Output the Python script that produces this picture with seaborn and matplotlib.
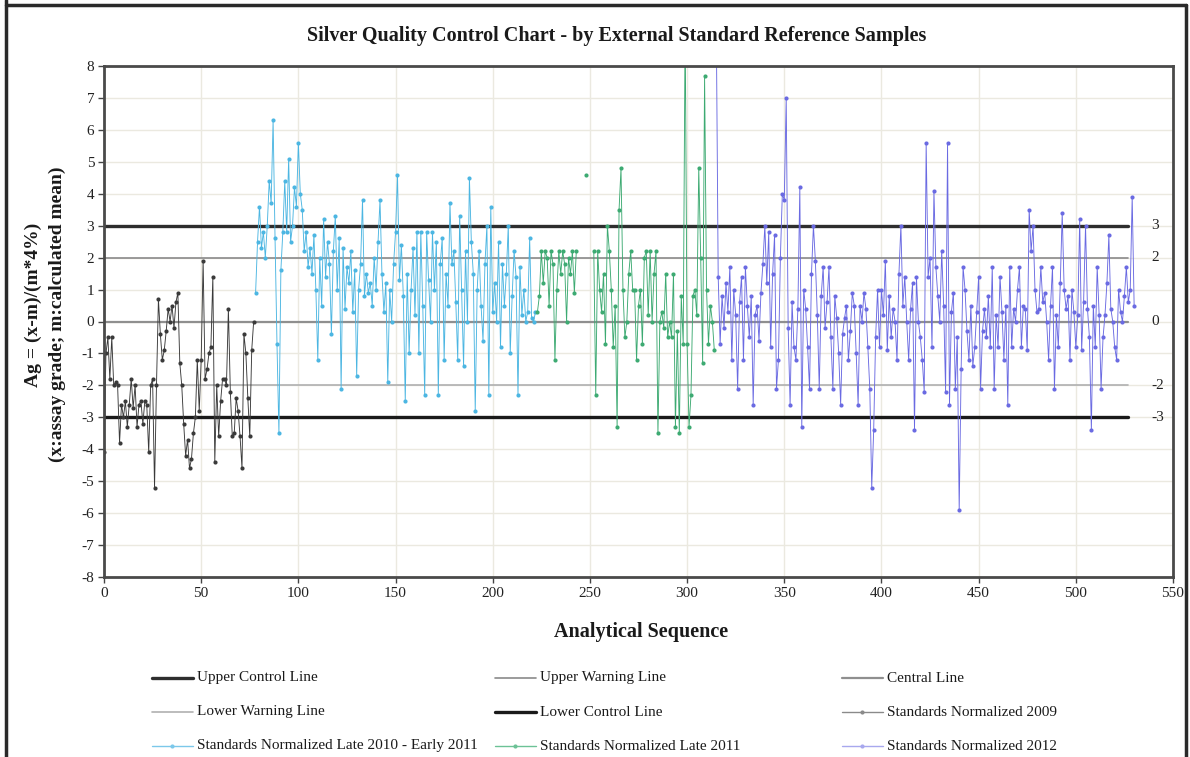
import numpy as np
import pandas as pd
import matplotlib
matplotlib.use("Agg")
import matplotlib.pyplot as plt
from matplotlib.lines import Line2D
import seaborn as sns

sns.set_theme(style="white")
plt.rcParams["font.family"] = ["Liberation Serif", "DejaVu Serif"]
plt.rcParams["axes.unicode_minus"] = False

# ---- normalized standard results, one list per campaign (NaN = no result) ----
start_2009 = 0
std_2009 = [
    -4.1, -1.0, -0.5, -1.8, -0.5, -2.0, -1.9, -2.0, -3.8, -2.6,
    -3.0, -2.5, -3.3, -2.6, -1.8, -2.7, -2.0, -3.3, -2.6, -2.5,
    -3.2, -2.5, -2.6, -4.1, -2.0, -1.8, -5.2, -2.0, 0.7, -0.4,
    -1.2, -0.9, -0.3, 0.4, 0.0, 0.5, -0.2, 0.6, 0.9, -1.3,
    -2.0, -3.2, -4.2, -3.7, -4.6, -4.3, -3.5, -3.0, -1.2, -2.8,
    -1.2, 1.9, -1.8, -1.5, -1.0, -0.8, 1.4, -4.4, -2.0, -3.6,
    -2.5, -1.8, -1.8, -2.0, 0.4, -2.2, -3.6, -3.5, -2.4, -2.8,
    -3.6, -4.6, -0.4, -1.0, -2.4, -3.6, -0.9, 0.0,
]

start_2010 = 78
std_2010 = [
    0.9, 2.5, 3.6, 2.3, 2.8, 2.0, 3.0, 4.4, 3.7, 6.3,
    2.6, -0.7, -3.5, 1.6, 2.8, 4.4, 2.8, 5.1, 2.5, 3.0,
    4.2, 3.6, 5.6, 4.0, 3.5, 2.2, 2.8, 1.7, 2.3, 1.5,
    2.7, 1.0, -1.2, 2.0, 0.5, 3.2, 1.4, 2.5, 1.8, -0.4,
    2.2, 3.3, 1.0, 2.6, -2.1, 2.3, 0.4, 1.7, 1.2, 2.2,
    0.3, 1.6, -1.7, 1.0, 1.8, 3.8, 0.8, 1.5, 0.9, 1.2,
    0.5, 2.0, 1.0, 2.5, 3.8, 1.5, 0.3, 1.2, -1.9, 1.0,
    0.0, 1.8, 2.8, 4.6, 1.3, 2.4, 0.8, -2.5, 1.5, -1.0,
    1.0, 2.3, 0.2, 2.8, -1.0, 2.8, 0.5, -2.3, 2.8, 1.3,
    0.0, 2.8, 1.0, 2.5, -2.3, 1.8, 2.6, -1.2, 1.5, 0.5,
    3.7, 1.8, 2.2, 0.6, -1.2, 3.3, 1.0, -1.4, 2.2, 0.0,
    4.5, 2.5, 1.5, -2.8, 1.0, 2.2, 0.5, -0.6, 1.8, 3.0,
    -2.3, 3.6, 0.3, 1.2, 0.0, 2.5, -0.8, 1.8, 0.5, 1.5,
    3.0, -1.0, 0.8, 2.2, 1.4, -2.3, 1.7, 0.2, 1.0, 0.0,
    0.3, 2.6, 0.1, 0.0, 0.3,
]

start_2011 = 223
std_2011 = [
    0.3, 0.8, 2.2, 1.2, 2.2, 2.0, 0.5, 2.2, 1.8, -1.2,
    1.0, 2.2, 1.5, 2.2, 1.8, 0.0, 2.0, 1.5, 2.2, 0.9,
    2.2, np.nan, np.nan, np.nan, np.nan, 4.6, np.nan, np.nan, np.nan, 2.2,
    -2.3, 2.2, 1.0, 0.3, 1.5, -0.7, 3.0, 2.2, 1.0, -0.8,
    0.5, -3.3, 3.5, 4.8, 1.0, -0.5, 0.0, 1.5, 2.2, 1.0,
    1.0, -1.2, 0.5, 1.0, -0.7, 2.0, 2.2, 0.2, 2.2, 0.0,
    1.5, 2.2, -3.5, 0.0, 0.3, -0.2, 1.5, -0.5, 0.0, -0.5,
    1.5, -3.3, -0.3, -3.5, 0.8, -0.7, 9.5, -0.7, -3.3, -2.3,
    0.8, 1.0, 0.2, 4.8, 2.0, -1.3, 7.7, 1.0, -0.7, 0.5,
    0.0, -0.9,
]

start_2012 = 315
std_2012 = [
    9.5, 1.4, -0.7, 0.8, -0.2, 1.2, 0.3, 1.7, -1.2, 1.0,
    0.2, -2.1, 0.6, 1.4, -1.2, 1.7, 0.5, -0.5, 0.8, -2.6,
    0.2, 0.5, -0.6, 0.9, 1.8, 3.0, 1.2, 2.8, -0.8, 1.5,
    2.7, -2.1, -1.2, 2.0, 4.0, 3.8, 7.0, -0.2, -2.6, 0.6,
    -0.8, -1.2, 0.4, 4.2, -3.3, 1.0, 0.4, -0.8, -2.1, 1.5,
    3.0, 1.9, 0.2, -2.1, 0.8, 1.7, -0.2, 0.6, 1.7, -0.5,
    -2.1, 0.8, 0.1, -1.0, -2.6, -0.4, 0.1, 0.5, -1.2, -0.3,
    0.9, 0.5, -1.0, -2.6, 0.5, 0.0, 0.9, 0.4, -0.8, -2.1,
    -5.2, -3.4, -0.5, 1.0, -0.8, 1.0, 0.2, 1.9, -0.9, 0.8,
    -0.5, 0.4, 0.0, -1.2, 1.5, 3.0, 0.5, 1.4, 0.0, -1.2,
    0.4, 1.2, -3.4, 1.4, 0.0, -0.5, -1.2, -2.2, 5.6, 1.4,
    2.0, -0.8, 4.1, 1.7, 0.8, 0.0, 2.2, 0.5, -2.2, 5.6,
    -2.6, 0.3, 0.9, -2.1, -0.5, -5.9, -1.5, 1.7, 1.0, -0.3,
    -1.2, 0.5, -1.4, -0.8, 0.3, 1.4, -2.1, -0.3, 0.4, -0.5,
    0.8, -0.8, 1.7, -2.1, 0.2, -0.8, 1.4, 0.3, -1.2, 0.5,
    -2.6, 1.7, -0.8, 0.4, 0.0, 1.0, 1.7, -0.8, 0.5, 0.4,
    -0.9, 3.5, 2.2, 3.0, 1.0, 0.3, 0.4, 1.7, 0.6, 0.9,
    0.0, -1.2, 0.5, 1.7, -2.1, 0.2, -0.8, 1.2, 3.4, 1.0,
    0.4, 0.8, -1.2, 1.0, 0.3, -0.8, 0.2, 3.2, -0.9, 0.6,
    3.0, 0.4, -0.5, -3.4, 0.5, -0.8, 1.7, 0.2, -2.1, -0.5,
    0.2, 1.2, 2.7, 0.4, 0.0, -0.8, -1.2, 1.0, 0.3, 0.0,
    0.8, 1.7, 0.6, 1.0, 3.9, 0.5,
]

series_names = [
    "Standards Normalized 2009",
    "Standards Normalized Late 2010 - Early 2011",
    "Standards Normalized Late 2011",
    "Standards Normalized 2012",
]
series_starts = [start_2009, start_2010, start_2011, start_2012]
series_values = [std_2009, std_2010, std_2011, std_2012]
series_colors = ["#3a3a3a", "#4cb6e2", "#3daa72", "#6a6ae2"]

# ---- control limits ----
limit_names = ["Upper Control Line", "Upper Warning Line", "Central Line",
               "Lower Warning Line", "Lower Control Line"]
limit_values = [3, 2, 0, -2, -3]
limit_labels = ["3", "2", "0", "-2", "-3"]
limit_span = [0, 527]
limit_colors = ["#2e2e2e", "#8a8a8a", "#8f8f8f", "#b0b0b0", "#1a1a1a"]
limit_widths = [2.4, 1.2, 1.6, 1.2, 2.4]

# ---- tidy frames ----
frames = []
for name, start, vals in zip(series_names, series_starts, series_values):
    y = np.asarray(vals, dtype=float)
    x = start + np.arange(len(y))
    seg = np.cumsum(np.isnan(y))
    frames.append(pd.DataFrame({"x": x, "y": y, "series": name,
                                "seg": [f"{name}|{s}" for s in seg]}).dropna())
points = pd.concat(frames, ignore_index=True)

limits = pd.DataFrame({
    "x": np.tile(limit_span, len(limit_names)),
    "y": np.repeat(limit_values, 2),
    "line": np.repeat(limit_names, 2),
})

# ---- figure ----
fig = plt.figure(figsize=(11.9, 7.57), dpi=100)
ax = fig.add_axes([104 / 1190, 1 - 577 / 757, (1173 - 104) / 1190, (577 - 66) / 757])

ax.grid(True, color="#ebe9e0", linewidth=1.0)
ax.set_axisbelow(True)

sns.lineplot(data=limits, x="x", y="y", hue="line", size="line",
             palette=dict(zip(limit_names, limit_colors)),
             sizes=dict(zip(limit_names, limit_widths)),
             units="line", estimator=None, sort=False, legend=False, ax=ax)

sns.lineplot(data=points, x="x", y="y", hue="series", units="seg",
             palette=dict(zip(series_names, series_colors)),
             estimator=None, sort=False, legend=False, ax=ax,
             linewidth=0.65, marker="o", markersize=3.0, markeredgewidth=0)

for v, lab in zip(limit_values, limit_labels):
    ax.text(539, v, lab, ha="left", va="center", fontsize=11,
            color="#222222", clip_on=False)

ax.set_xlim(0, 550)
ax.set_ylim(-8, 8)
ax.set_xticks(range(0, 551, 50))
ax.set_yticks(range(-8, 9))
ax.set_xlabel("")
ax.set_ylabel("")
ax.tick_params(axis="both", direction="out", length=4, width=1, color="#444444",
               labelsize=11, labelcolor="#222222", bottom=True, left=True, pad=3)
for sp in ax.spines.values():
    sp.set_color("#4a4a4a")
    sp.set_linewidth(2.0)

# ---- titles ----
fig.text(617 / 1190, 1 - 36 / 757,
         "Silver Quality Control Chart - by External Standard Reference Samples",
         ha="center", va="center", fontsize=14.5, fontweight="bold", color="#1a1a1a")
fig.text(641 / 1190, 1 - 632 / 757, "Analytical Sequence",
         ha="center", va="center", fontsize=14.5, fontweight="bold", color="#1a1a1a")
fig.text(33 / 1190, 1 - 305 / 757, "Ag = (x-m)/(m*4%)", rotation=90,
         ha="center", va="center", fontsize=14, fontweight="bold", color="#1a1a1a")
fig.text(57 / 1190, 1 - 314 / 757, "(x:assay grade; m:calculated mean)", rotation=90,
         ha="center", va="center", fontsize=14, fontweight="bold", color="#1a1a1a")

# ---- legend (three rows, three columns) ----
legend_order = [
    ("Upper Control Line", limit_colors[0], limit_widths[0], False),
    ("Upper Warning Line", limit_colors[1], limit_widths[1], False),
    ("Central Line", limit_colors[2], limit_widths[2], False),
    ("Lower Warning Line", limit_colors[3], limit_widths[3], False),
    ("Lower Control Line", limit_colors[4], limit_widths[4], False),
    (series_names[0], "#8a8a8a", 1.0, True),
    (series_names[1], "#7cc8ea", 1.0, True),
    (series_names[2], "#6cc296", 1.0, True),
    (series_names[3], "#a8a8ee", 1.0, True),
]
col_x = [152, 495, 842]
row_y = [678, 712, 746]
for i, (lab, col, lw, mk) in enumerate(legend_order):
    r, c = divmod(i, 3)
    x0 = col_x[c]
    yy = 1 - row_y[r] / 757
    fig.add_artist(Line2D([x0 / 1190, (x0 + 41) / 1190], [yy, yy], color=col, lw=lw,
                          transform=fig.transFigure))
    if mk:
        fig.add_artist(Line2D([(x0 + 20) / 1190], [yy], color=col, marker="o",
                              markersize=3, markeredgewidth=0, transform=fig.transFigure))
    fig.text((x0 + 45) / 1190, yy, lab, ha="left", va="center", fontsize=11,
             color="#1a1a1a")

# ---- outer frame ----
for xs, ys in [([6, 6], [0, 757]), ([6, 1186], [5, 5]), ([1186, 1186], [5, 757])]:
    fig.add_artist(Line2D([v / 1190 for v in xs], [1 - v / 757 for v in ys],
                          color="#2a2a2a", lw=2.5, transform=fig.transFigure))

fig.savefig("out.png", dpi=100)
